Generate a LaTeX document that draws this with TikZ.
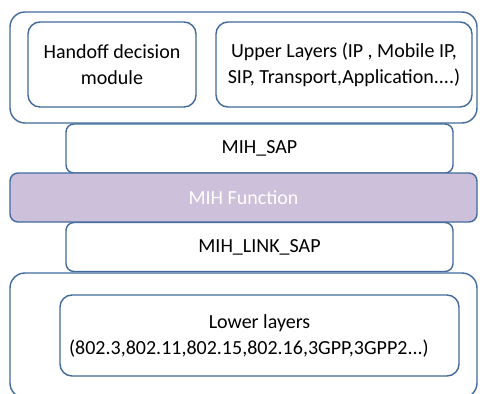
\documentclass[tikz,border=0pt]{standalone}
\usepackage{fontspec}
\setmainfont{Carlito}
\usetikzlibrary{positioning}
\definecolor{cLine}{RGB}{65,106,155}
\definecolor{cMih}{RGB}{204,192,218}
\tikzset{
	layer/.style   ={rectangle, rounded corners=15pt, draw=cLine, line width=1.4pt, fill=white, inner sep=0pt},
	module/.style  ={rectangle, rounded corners=12pt, draw=cLine, line width=1.4pt, fill=white, align=center, inner sep=0pt},
	sap/.style     ={rectangle, rounded corners=8pt, draw=cLine, line width=1.4pt, fill=white, minimum width=387pt, minimum height=49pt, inner sep=0pt},
	mihfunc/.style ={rectangle, rounded corners=8pt, draw=cLine, line width=1.4pt, fill=cMih, text=white, minimum width=467pt, minimum height=49pt, inner sep=0pt},
}

\begin{document}
\begin{tikzpicture}[x=1pt, y=-1pt, font=\fontsize{20}{26}\selectfont]
	\useasboundingbox (0,0) rectangle (480,394);
	% upper part
	\node[layer, minimum width=467pt, minimum height=111pt] (upper) at (243.5,67.5) {};
	\node[module, minimum width=168pt, minimum height=85pt] (hdm) at (112,64.5) {Handoff decision\\module};
	\node[module, minimum width=256pt, minimum height=85pt] (ul) at (344,64.5) {Upper Layers (IP , Mobile IP,\\SIP, Transport,Application....)};
	% service access points and MIH function
	\node[sap] (msap) at (259.5,148.5) {MIH\_SAP};
	\node[sap] (lsap) at (259.5,247) {MIH\_LINK\_SAP};
	\node[mihfunc] (mihf) at (243.5,197.5) {MIH Function};
	% lower part
	\node[layer, minimum width=467pt, minimum height=125pt] (lower) at (243.5,335.5) {};
	\node[module, minimum width=399pt, minimum height=81pt] (ll) at (259.5,335.5) {Lower layers\\(802.3,802.11,802.15,802.16,3GPP,3GPP2...)\textcolor{white}{...)}};
\end{tikzpicture}
\end{document}
